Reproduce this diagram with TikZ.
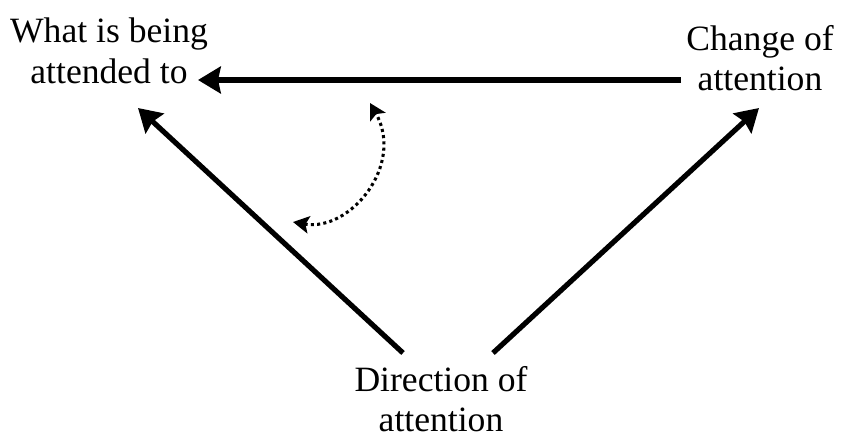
\documentclass[tikz,border=0pt]{standalone}
\usepackage{fontspec}
\setmainfont{Liberation Serif}
\usetikzlibrary{arrows.meta}
\begin{document}
\begin{tikzpicture}[x=0.75pt,y=-0.75pt,
  lbl/.style={align=center,inner sep=0pt,font=\fontsize{26.7}{30.5}\selectfont},
  bigarrow/.style={line width=3.9pt,-{Stealth[length=17pt,width=20pt,inset=2pt]}},
  dotarrow/.style={line width=2.3pt,dash pattern=on 2.3pt off 2.4pt,{Stealth[length=12pt,width=13pt,inset=2.5pt]}-{Stealth[length=12pt,width=13pt,inset=2.5pt]}}]
\useasboundingbox (0,0) rectangle (841,441);
\node[lbl] (what) at (109,51) {What is being\\attended to};
\node[lbl] (change) at (760,58) {Change of\\attention};
\node[lbl] (dir) at (441,399) {Direction of\\attention};
\coordinate (hS) at (681,80);
\coordinate (hE) at (198,80);
\coordinate (lS) at (403,353);
\coordinate (lE) at (138,108);
\coordinate (rS) at (493,353);
\coordinate (rE) at (759,108);
\coordinate (cA) at (293,222);
\coordinate (cB) at (370,103);
\draw[bigarrow] (hS) -- (hE);
\draw[bigarrow] (lS) -- (lE);
\draw[bigarrow] (rS) -- (rE);
\draw[dotarrow] (cA) .. controls (350,232) and (405,165) .. (cB);
\end{tikzpicture}
\end{document}
